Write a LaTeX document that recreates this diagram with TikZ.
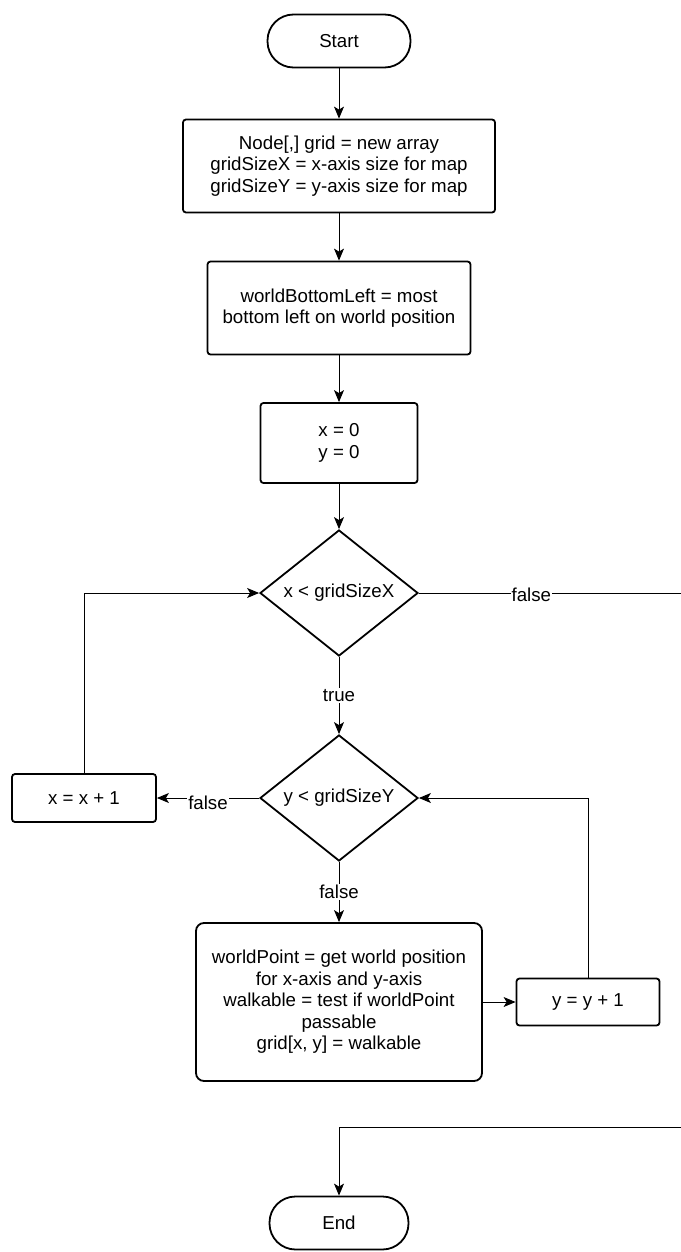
\documentclass[tikz,border=0pt]{standalone}
\usepackage{fontspec}
\setmainfont{Liberation Sans}
\usetikzlibrary{shapes.geometric,arrows.meta}
\begin{document}
\begin{tikzpicture}[x=1pt,y=-1pt,
  every node/.style={font=\fontsize{18.7}{21.5}\selectfont, align=center},
  terminal/.style={draw, line width=1.8pt, rounded corners=26pt, minimum width=143pt, minimum height=53pt, inner sep=0pt},
  proc/.style={draw, line width=1.8pt, rounded corners=3pt, inner sep=0pt},
  bigproc/.style={draw, line width=1.8pt, rounded corners=8pt, inner sep=0pt},
  decision/.style={draw, diamond, line width=1.8pt, aspect=1.27, inner sep=0pt, minimum width=158pt, minimum height=126pt},
  flow/.style={line width=1pt, -{Stealth[length=12pt,width=10pt,inset=3pt]}},
  plain/.style={line width=1pt},
  lab/.style={fill=white, inner sep=1pt}
]
\useasboundingbox (0,0) rectangle (680,1252);

\node[terminal] (start) at (339,41) {Start};
\node[proc, minimum width=312pt, minimum height=93pt] (init) at (339,166)
  {Node[,] grid = new array\\gridSizeX = x-axis size for map\\gridSizeY = y-axis size for map};
\node[proc, minimum width=263pt, minimum height=93pt] (origin) at (339,308)
  {worldBottomLeft = most\\bottom left on world position};
\node[proc, minimum width=157pt, minimum height=80pt] (zero) at (339,443)
  {x = 0\\y = 0};
\node[decision] (cx) at (339,593) {x < gridSizeX};
\node[decision] (cy) at (339,798) {y < gridSizeY};
\node[proc, minimum width=144pt, minimum height=48pt] (xinc) at (84,798) {x = x + 1};
\node[bigproc, minimum width=286pt, minimum height=158pt] (cell) at (339,1002)
  {worldPoint = get world position\\for x-axis and y-axis\\walkable = test if worldPoint\\passable\\grid[x, y] = walkable};
\node[proc, minimum width=143pt, minimum height=47pt] (yinc) at (588,1002) {y = y + 1};
\node[terminal, minimum width=139pt] (finish) at (339,1223) {End};

\coordinate (outA) at (700,593);
\coordinate (outB) at (700,1127);

\draw[flow] (start) -- (init);
\draw[flow] (init) -- (origin);
\draw[flow] (origin) -- (zero);
\draw[flow] (zero) -- (cx);
\draw[flow] (cx) -- node[lab] {true} (cy);
\draw[flow] (cy) -- node[lab, yshift=-5pt] {false} (xinc);
\draw[flow] (xinc.north) |- (cx.west);
\draw[flow] (cy) -- node[lab] {false} (cell);
\draw[flow] (cell.east) -- (yinc.west);
\draw[flow] (yinc.north) |- (cy.east);
\draw[plain] (cx.east) -- node[lab, pos=0.4, yshift=-2pt] {false} (outA) -- (outB);
\draw[flow] (outB) -| (finish.north);
\end{tikzpicture}
\end{document}
